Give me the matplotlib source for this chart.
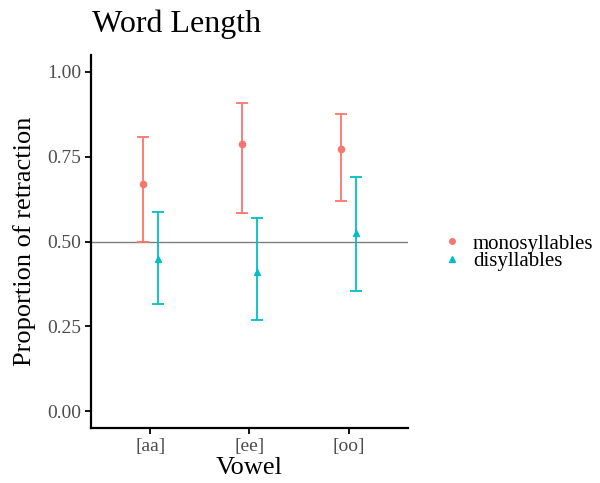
import matplotlib
matplotlib.use("Agg")
import matplotlib.pyplot as plt
from matplotlib.lines import Line2D
import numpy as np

# data
vowels = ["[aa]", "[ee]", "[oo]"]
mono_mean = [0.671, 0.788, 0.772]
mono_low = [0.498, 0.583, 0.620]
mono_high = [0.807, 0.908, 0.877]
di_mean = [0.448, 0.411, 0.526]
di_low = [0.315, 0.269, 0.355]
di_high = [0.586, 0.568, 0.690]

plt.rcParams["font.family"] = ["Liberation Serif", "DejaVu Serif"]

red = "#F8766D"
teal = "#00BFC4"

fig = plt.figure(figsize=(6, 4.83), dpi=100)
ax = fig.add_axes([91 / 600, 55 / 483, 317 / 600, 373 / 483])

x = np.arange(1, len(vowels) + 1)
dodge = 0.075

ax.axhline(0.5, color="#7f7f7f", lw=1.0, zorder=1)

handles = []
for xs, m, lo, hi, c, mk, lab in [
    (x - dodge, mono_mean, mono_low, mono_high, red, "o", "monosyllables"),
    (x + dodge, di_mean, di_low, di_high, teal, "^", "disyllables"),
]:
    m = np.array(m)
    err = [m - np.array(lo), np.array(hi) - m]
    ax.errorbar(xs, m, yerr=err, fmt=mk, color=c, ms=4.5, elinewidth=1.3,
                capsize=4.5, capthick=1.3, zorder=3)
    handles.append(Line2D([], [], ls="", marker=mk, color=c, ms=4, label=lab))

ax.set_xlim(0.4, 3.6)
ax.set_ylim(-0.05, 1.05)
ax.set_xticks(x)
ax.set_xticklabels(vowels)
ax.set_yticks([0, 0.25, 0.5, 0.75, 1.0])
ax.set_yticklabels(["0.00", "0.25", "0.50", "0.75", "1.00"])

for s in ["top", "right"]:
    ax.spines[s].set_visible(False)
for s in ["left", "bottom"]:
    ax.spines[s].set_linewidth(1.6)
ax.tick_params(length=4, width=1.3, labelsize=14, labelcolor="#4d4d4d", pad=3)

ax.set_xlabel("Vowel", fontsize=19, labelpad=2)
ax.set_ylabel("Proportion of retraction", fontsize=19, labelpad=8)
fig.text(92 / 600, 1 - 24 / 483, "Word Length", fontsize=23, va="center", ha="left")

ax.legend(handles=handles, loc="center left", bbox_to_anchor=(1.08, 0.47),
          borderaxespad=0, frameon=False, fontsize=15, handlelength=1.0,
          handletextpad=0.5, labelspacing=-0.08)

fig.savefig("out.png", dpi=100)
